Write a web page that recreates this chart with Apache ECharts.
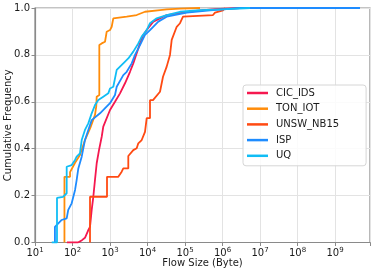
<!DOCTYPE html>
<html>
<head>
<meta charset="utf-8">
<script src="https://cdn.jsdelivr.net/npm/echarts@6/dist/echarts.min.js"></script>
<style>
html,body{margin:0;padding:0;background:#fff;}
#chart{width:374px;height:273px;}
</style>
</head>
<body>
<div id="chart"></div>
<script>
// ---- Data (flow size in bytes, cumulative frequency) ----
const seriesNames = ['CIC_IDS', 'TON_IOT', 'UNSW_NB15', 'ISP', 'UQ'];
const seriesColors = ['#f5184f', '#ff8c0a', '#ff4a12', '#1e8cff', '#10bdf5'];

const cicSize = [71, 140, 179, 215, 259, 293, 325, 359, 398, 442, 509, 601, 662, 1000, 1359, 1848, 2512, 3415, 4178, 5152, 6310, 7727, 9520, 14290, 21540, 32500, 136000, 631000, 2930000];
const cicCdf  = [0, 0, 0.01, 0.02, 0.05, 0.067, 0.139, 0.195, 0.267, 0.338, 0.394, 0.451, 0.494, 0.565, 0.6, 0.636, 0.679, 0.728, 0.764, 0.807, 0.849, 0.885, 0.906, 0.942, 0.956, 0.97, 0.985, 0.995, 1.0];

const tonSize = [61, 61, 86, 86, 117, 158, 215, 300, 398, 430, 442, 519, 519, 601, 736, 817, 1000, 1110, 1225, 2787, 5152, 8577, 21540, 32500, 73600, 251000];
const tonCdf  = [0, 0.28, 0.28, 0.30, 0.34, 0.373, 0.437, 0.49, 0.544, 0.58, 0.622, 0.629, 0.842, 0.849, 0.856, 0.899, 0.906, 0.92, 0.956, 0.963, 0.97, 0.984, 0.991, 0.994, 0.997, 1.0];

const unswSize = [293, 293, 832, 832, 1665, 2051, 2263, 3076, 3076, 4178, 5152, 5689, 7003, 8577, 9520, 11660, 11660, 14020, 21540, 25900, 32500, 39800, 44200, 60100, 73600, 88500, 558000, 631000, 1030000, 1166000];
const unswCdf  = [0, 0.195, 0.195, 0.28, 0.28, 0.302, 0.316, 0.316, 0.369, 0.394, 0.402, 0.423, 0.437, 0.472, 0.53, 0.53, 0.607, 0.607, 0.643, 0.707, 0.75, 0.8, 0.864, 0.92, 0.935, 0.963, 0.97, 0.98, 0.99, 1.0];

const ispSize = [34, 34, 34, 51.5, 70, 77, 95, 117, 129, 143, 176, 215, 264, 325, 541, 1000, 1359, 1510, 2263, 2787, 3793, 4642, 6310, 8577, 11660, 19410, 32500, 110900, 464000, 2930000, 4640000000];
const ispCdf  = [0, 0.025, 0.067, 0.096, 0.103, 0.139, 0.167, 0.224, 0.266, 0.316, 0.366, 0.437, 0.48, 0.522, 0.551, 0.594, 0.629, 0.664, 0.714, 0.728, 0.764, 0.8, 0.842, 0.885, 0.906, 0.942, 0.963, 0.98, 0.99, 1.0, 1.0];

const uqSize = [28, 38.6, 38.6, 56, 63, 70, 70, 95, 117, 129, 158, 176, 215, 264, 325, 398, 488, 662, 901, 1000, 1225, 1510, 2263, 3076, 4178, 5689, 7003, 9520, 11660, 17590, 32500, 73600, 251000, 1295000, 5400000];
const uqCdf  = [0, 0, 0.19, 0.195, 0.2, 0.21, 0.323, 0.33, 0.352, 0.366, 0.38, 0.437, 0.48, 0.508, 0.551, 0.586, 0.608, 0.622, 0.636, 0.657, 0.664, 0.736, 0.764, 0.785, 0.814, 0.849, 0.878, 0.906, 0.935, 0.956, 0.97, 0.984, 0.991, 0.995, 1.0];

const xTickExponents = [1, 2, 3, 4, 5, 6, 7, 8, 9];
const yTickLabels = ['0.0', '0.2', '0.4', '0.6', '0.8', '1.0'];

const sizeArrays = [cicSize, tonSize, unswSize, ispSize, uqSize];
const cdfArrays = [cicCdf, tonCdf, unswCdf, ispCdf, uqCdf];

function pairs(xs, ys) { return xs.map((x, i) => [x, ys[i]]); }

const chart = echarts.init(document.getElementById('chart'), null, {renderer: 'canvas'});
const FONT = 'DejaVu Sans';
const option = {
  animation: false,
  backgroundColor: '#ffffff',
  textStyle: {fontFamily: FONT},
  grid: {left: 35, right: 4, top: 8, bottom: 30.5, containLabel: false, outerBoundsMode: 'none',
         show: true, borderColor: '#8a8a8a', borderWidth: 1.2, backgroundColor: 'transparent'},
  legend: {
    data: seriesNames,
    orient: 'vertical',
    left: 243, top: 85,
    padding: [2, 27, 4, 4],
    itemGap: 3.7,
    itemWidth: 21, itemHeight: 2.5,
    icon: 'rect',
    backgroundColor: 'rgba(255,255,255,0.85)',
    borderColor: '#d6d6d6', borderWidth: 1, borderRadius: 3,
    textStyle: {fontFamily: FONT, fontSize: 10, color: '#1a1a1a', lineHeight: 12, padding: [0, 0, 0, 3]}
  },
  xAxis: {
    type: 'log', logBase: 10, min: 10, max: 8.58e9,
    name: 'Flow Size (Byte)', nameLocation: 'middle', nameGap: 16, nameMoveOverlap: false,
    nameTextStyle: {fontFamily: FONT, fontSize: 10, color: '#1a1a1a'},
    axisLine: {show: true, lineStyle: {color: '#8a8a8a', width: 1.2}},
    axisTick: {show: true, length: 3.5, lineStyle: {color: '#8a8a8a'}},
    splitLine: {show: true, lineStyle: {color: '#e3e3e3', width: 1}},
    minorTick: {show: false},
    axisLabel: {
      margin: 4,
      fontFamily: FONT, fontSize: 10, color: '#1a1a1a',
      formatter: function (v) {
        const e = Math.round(Math.log10(v));
        if (Math.abs(Math.log10(v) - e) > 1e-6 || xTickExponents.indexOf(e) < 0) return '';
        return '{b|10}{s|' + e + '}';
      },
      rich: {
        b: {fontFamily: FONT, fontSize: 10, color: '#1a1a1a'},
        s: {fontFamily: FONT, fontSize: 7, color: '#1a1a1a', padding: [0, 0, 7, 0]}
      }
    }
  },
  yAxis: {
    type: 'value', min: 0, max: 1, interval: 0.2,
    name: 'Cumulative Frequency', nameLocation: 'middle', nameGap: 22, nameMoveOverlap: false,
    nameTextStyle: {fontFamily: FONT, fontSize: 10, color: '#1a1a1a'},
    axisLine: {show: true, lineStyle: {color: '#8a8a8a', width: 1.2}},
    axisTick: {show: true, length: 3.5, lineStyle: {color: '#8a8a8a'}},
    splitLine: {show: true, lineStyle: {color: '#e3e3e3', width: 1}},
    axisLabel: {
      margin: 5, fontFamily: FONT, fontSize: 10, color: '#1a1a1a',
      formatter: function (v) { return yTickLabels[Math.round(v / 0.2)]; }
    }
  },
  series: seriesNames.map((n, i) => ({
    name: n, type: 'line',
    data: pairs(sizeArrays[i], cdfArrays[i]),
    showSymbol: false, symbol: 'none',
    color: seriesColors[i],
    lineStyle: {color: seriesColors[i], width: 1.8},
    clip: true,
    z: 3 + i
  }))
};
chart.setOption(option);
</script>
</body>
</html>
